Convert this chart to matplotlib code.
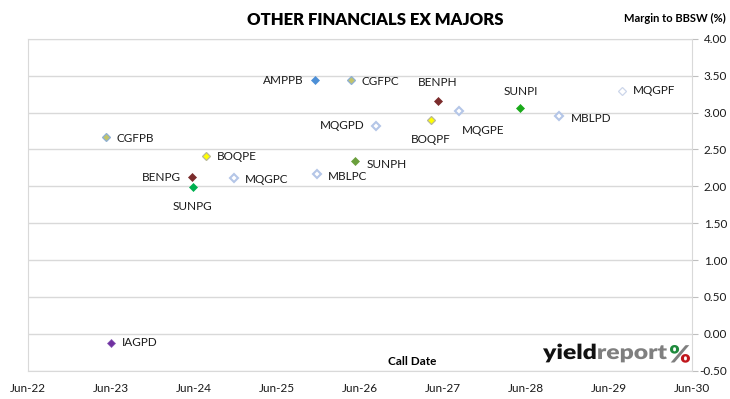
import matplotlib
matplotlib.use("Agg")
import matplotlib.pyplot as plt
import matplotlib.dates as mdates
from matplotlib.textpath import TextPath
from matplotlib.font_manager import FontProperties
from matplotlib.patches import PathPatch
from matplotlib.path import Path
from matplotlib.transforms import Affine2D
import pandas as pd

# security names, call dates and margins
names = ["CGFPB", "IAGPD", "BENPG", "SUNPG", "BOQPE", "MQGPC", "AMPPB", "MBLPC",
         "CGFPC", "SUNPH", "MQGPD", "BOQPF", "BENPH", "MQGPE", "SUNPI", "MBLPD", "MQGPF"]
call_dates = ["2023-05-10", "2023-06-01", "2024-05-22", "2024-05-27", "2024-07-25",
              "2024-11-25", "2025-11-15", "2025-11-25", "2026-04-22", "2026-05-12",
              "2026-08-10", "2027-04-10", "2027-05-10", "2027-08-12", "2028-05-06",
              "2028-10-25", "2029-07-28"]
margins = [2.67, -0.12, 2.12, 1.99, 2.41, 2.11, 3.44, 2.17,
           3.44, 2.34, 2.82, 2.90, 3.16, 3.02, 3.06, 2.96, 3.30]

tick_dates = ["2022-06-01", "2023-06-01", "2024-06-01", "2025-06-01", "2026-06-01",
              "2027-06-01", "2028-06-01", "2029-06-01", "2030-06-01"]
y_ticks = [-0.5, 0, 0.5, 1.0, 1.5, 2.0, 2.5, 3.0, 3.5, 4.0]

# marker styles (face, edge, edge width, size)
hollow = ("white", "#b4c6e7", 1.5, 4.2)
styles = {
    "CGFPB": ("#c2c46a", "#8fb0d4", 0.9, 4.2),
    "CGFPC": ("#c2c46a", "#8fb0d4", 0.9, 4.2),
    "IAGPD": ("#7030a0", "#8a5cb8", 0.5, 4.2),
    "BENPG": ("#7b2c2c", "#7b2c2c", 0.5, 4.4),
    "BENPH": ("#7b2c2c", "#7b2c2c", 0.5, 4.4),
    "SUNPG": ("#00b050", "#00b050", 0.5, 4.4),
    "SUNPH": ("#6a9f3c", "#6a9f3c", 0.5, 4.4),
    "SUNPI": ("#1aaa1a", "#1aaa1a", 0.5, 4.4),
    "BOQPE": ("#ffff00", "#b8b89a", 0.9, 4.2),
    "BOQPF": ("#ffff00", "#b8b89a", 0.9, 4.2),
    "AMPPB": ("#4d8fd6", "#4d8fd6", 0.5, 4.2),
    "MQGPC": hollow, "MBLPC": hollow, "MQGPD": hollow,
    "MQGPE": hollow, "MBLPD": hollow,
    "MQGPF": ("white", "#ccd6ea", 0.9, 4.2),
}
# label offsets in points and alignment
label_pos = {
    "CGFPB": (8, -1, "left"), "IAGPD": (8, 0, "left"), "BENPG": (-8, 0, "right"),
    "SUNPG": (0, -14, "center"), "BOQPE": (8, 0, "left"), "MQGPC": (8, -1, "left"),
    "AMPPB": (-8, 0, "right"), "MBLPC": (8, -2, "left"), "CGFPC": (8, -1, "left"),
    "SUNPH": (8, -2, "left"), "MQGPD": (-8, 0, "right"), "BOQPF": (0, -14, "center"),
    "BENPH": (0, 13, "center"), "MQGPE": (17, -14, "center"), "SUNPI": (0, 12, "center"),
    "MBLPD": (8, -2, "left"), "MQGPF": (8, 0, "left"),
}

plt.rcParams["font.family"] = ["Lato", "DejaVu Sans"]

dates = pd.to_datetime(call_dates)
ticks = pd.to_datetime(tick_dates)

fig = plt.figure(figsize=(7.3, 3.99), dpi=100)
ax = fig.add_axes([0.0377, 0.0714, 0.9107, 0.8309])

for n, d, m in zip(names, dates, margins):
    fc, ec, ew, ms = styles[n]
    ax.plot(d, m, marker="D", ms=ms, mfc=fc, mec=ec, mew=ew, ls="none", zorder=3)
    dx, dy, ha = label_pos[n]
    ax.annotate(n, (d, m), xytext=(dx, dy), textcoords="offset points",
                ha=ha, va="center", fontsize=8.5, color="#1a1a1a")

ax.set_xlim(ticks[0], ticks[-1])
ax.set_ylim(-0.5, 4.0)
ax.set_xticks(ticks)
ax.xaxis.set_major_formatter(mdates.DateFormatter("%b-%y"))
ax.set_yticks(y_ticks)
ax.set_yticklabels([f"{v:.2f}" for v in y_ticks])
ax.yaxis.tick_right()
ax.tick_params(axis="y", length=4, color="#bfbfbf", labelsize=8.5, pad=21, labelcolor="#1a1a1a")
ax.tick_params(axis="x", length=0, labelsize=8.5, pad=9, labelcolor="#1a1a1a")
for lbl in ax.get_yticklabels():
    lbl.set_horizontalalignment("right")
ax.grid(axis="y", color="#d9d9d9", lw=1)
ax.set_axisbelow(True)
for s in ax.spines.values():
    s.set_color("#d9d9d9")

fig.text(0.514, 0.95, "OTHER FINANCIALS EX MAJORS", ha="center", va="center",
         fontsize=12, fontweight="heavy", color="#000000")
fig.text(0.925, 0.953, "Margin to BBSW (%)", ha="center", va="center",
         fontsize=8, fontweight="bold", color="#000000")
fig.text(0.564, 0.093, "Call Date", ha="center", va="center",
         fontsize=8.5, fontweight="bold", color="#000000")

# yieldreport logo, drawn as glyph outlines in pixel coordinates
H = 399
logo_font = FontProperties(family="Lato", weight="heavy")


def glyphs(s):
    return TextPath((0, 0), s, size=1, prop=logo_font)


wext = glyphs("yieldreport").get_extents()
sx = (667 - 543) / wext.width
sy = 20.5
bar_x = glyphs("|").vertices[:, 0].max()
x_cur = 543 - wext.x0 * sx
for part, col in [("yield", "#111111"), ("report", "#7f7f7f")]:
    tr = Affine2D().scale(sx, sy).translate(x_cur, H - 359)
    fig.patches.append(PathPatch(tr.transform_path(glyphs(part)), fc=col, ec="none",
                                 transform=None, zorder=5))
    # advance width of the word
    x_cur += (glyphs(part + "|").vertices[:, 0].max() - bar_x) * sx

pct = glyphs("%")
pe = pct.get_extents()
tr = Affine2D().translate(-pe.x0, -pe.y0).scale(20 / pe.width, 17.7 / pe.height) \
    .translate(670, H - 362.7)
# split the percent sign into its contours and colour the two rings
verts, codes = pct.vertices, pct.codes
starts = [i for i, c in enumerate(codes) if c == Path.MOVETO] + [len(codes)]
groups = {"#1e8a3c": [], "#c0161c": [], "#7f7f7f": []}
for a, b in zip(starts[:-1], starts[1:]):
    cx = (verts[a:b, 0].mean() - pe.x0) / pe.width
    cy = (verts[a:b, 1].mean() - pe.y0) / pe.height
    sub = Path(verts[a:b], codes[a:b])
    if cx < 0.42 and cy > 0.58:
        groups["#1e8a3c"].append(sub)
    elif cx > 0.58 and cy < 0.42:
        groups["#c0161c"].append(sub)
    else:
        groups["#7f7f7f"].append(sub)
for col, subs in groups.items():
    if subs:
        p = Path.make_compound_path(*subs)
        fig.patches.append(PathPatch(tr.transform_path(p), fc=col, ec="none",
                                     transform=None, zorder=5))

fig.savefig("out.png", dpi=100, facecolor="white")
